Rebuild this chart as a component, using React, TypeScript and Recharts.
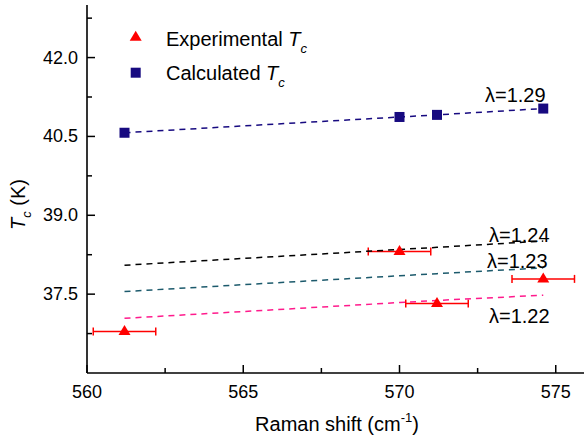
import { ScatterChart, Scatter, XAxis, YAxis, ErrorBar } from "recharts";

// Raman shift positions (cm-1)
const XS = [561.2, 570.0, 571.2, 574.6];
// experimental Tc with +-1 cm-1 error on the shift
const EXP_TC = [36.79, 38.31, 37.32, 37.79];
const EXP_ERR = [1.0, 1.0, 1.0, 1.0];
// calculated Tc (lambda = 1.29)
const CALC_TC = [40.57, 40.87, 40.91, 41.03];
// dashed curves for the lower lambdas
const FIT_124 = [38.05, 38.35, 38.39, 38.51];
const FIT_123 = [37.55, 37.85, 37.89, 38.0];
const FIT_122 = [37.04, 37.34, 37.38, 37.48];

const X_TICKS = [560, 562.5, 565, 567.5, 570, 572.5, 575];
const Y_TICKS = [36.75, 37.5, 38.25, 39, 39.75, 40.5, 41.25, 42, 42.75];

const FONT = "'Liberation Sans', Arial, sans-serif";
const NAVY = "#170a80";
const RED = "#ff0000";
const DASH = "6 5";

const toPts = (ys: number[]) => XS.map((x, i) => ({ x, y: ys[i] }));
const expData = XS.map((x, i) => ({ x, y: EXP_TC[i], xe: EXP_ERR[i] }));

const isMult = (v: number, step: number) => Math.abs(v / step - Math.round(v / step)) < 1e-6;

const YTick = (p: any) => {
  const { x, y, payload } = p;
  const major = isMult(payload.value, 1.5);
  return (
    <g>
      <line x1={x} x2={x + (major ? 8 : 5)} y1={y} y2={y} stroke="#000" strokeWidth={1.5} />
      {major && (
        <text x={x - 9} y={y + 6} textAnchor="end" fontSize={18} fontFamily={FONT} fill="#000">
          {payload.value.toFixed(1)}
        </text>
      )}
    </g>
  );
};

const XTick = (p: any) => {
  const { x, y, payload } = p;
  const major = isMult(payload.value, 5);
  return (
    <g>
      <line x1={x} x2={x} y1={y} y2={y - (major ? 8 : 5)} stroke="#000" strokeWidth={1.5} />
      {major && (
        <text x={x} y={y + 25} textAnchor="middle" fontSize={18} fontFamily={FONT} fill="#000">
          {payload.value}
        </text>
      )}
    </g>
  );
};

const TopTick = (p: any) => {
  const { x, y, payload } = p;
  const major = isMult(payload.value, 5);
  return <line x1={x} x2={x} y1={y} y2={y + (major ? 8 : 5)} stroke="#000" strokeWidth={1.5} />;
};

const Triangle = (p: any) => {
  const { cx, cy } = p;
  return <polygon points={`${cx},${cy - 6.5} ${cx - 6},${cy + 3.5} ${cx + 6},${cy + 3.5}`} fill={RED} />;
};

const Square = (p: any) => {
  const { cx, cy } = p;
  return <rect x={cx - 5} y={cy - 5} width={10} height={10} fill={NAVY} />;
};

const NoDot = () => <g />;

export default function App() {
  return (
    <div style={{ position: "absolute", left: 0, top: 0, width: 584, height: 439, overflow: "hidden", background: "#fff" }}>
      <ScatterChart width={592} height={439} margin={{ top: 5, right: 5, bottom: 0, left: 0 }}>
        <XAxis
          type="number"
          dataKey="x"
          domain={[560, 576]}
          ticks={X_TICKS}
          height={66}
          tickSize={0}
          tickMargin={0}
          tickLine={false}
          tick={XTick}
          axisLine={{ stroke: "#000", strokeWidth: 1.6 }}
          allowDataOverflow
        />
        <XAxis
          xAxisId="top"
          orientation="top"
          type="number"
          dataKey="x"
          domain={[560, 576]}
          ticks={X_TICKS}
          height={0}
          tickSize={0}
          tickMargin={0}
          tickLine={false}
          tick={TopTick}
          axisLine={{ stroke: "#000", strokeWidth: 1.6 }}
          allowDataOverflow
        />
        <YAxis
          type="number"
          dataKey="y"
          domain={[36, 43]}
          ticks={Y_TICKS}
          width={87}
          tickSize={0}
          tickMargin={0}
          tickLine={false}
          tick={YTick}
          axisLine={{ stroke: "#000", strokeWidth: 1.6 }}
          allowDataOverflow
        />
        <Scatter
          data={toPts(FIT_124)}
          shape={NoDot}
          line={{ stroke: "#000", strokeWidth: 1.5, strokeDasharray: DASH }}
          isAnimationActive={false}
        />
        <Scatter
          data={toPts(FIT_123)}
          shape={NoDot}
          line={{ stroke: "#1c5a6c", strokeWidth: 1.5, strokeDasharray: DASH }}
          isAnimationActive={false}
        />
        <Scatter
          data={toPts(FIT_122)}
          shape={NoDot}
          line={{ stroke: "#ff1a8c", strokeWidth: 1.5, strokeDasharray: DASH }}
          isAnimationActive={false}
        />
        <Scatter
          data={toPts(CALC_TC)}
          shape={Square}
          line={{ stroke: NAVY, strokeWidth: 1.5, strokeDasharray: DASH }}
          isAnimationActive={false}
        />
        <Scatter data={expData} shape={Triangle} isAnimationActive={false}>
          <ErrorBar dataKey="xe" direction="x" width={4} stroke={RED} strokeWidth={1.5} />
        </Scatter>
      </ScatterChart>

      {/* legend, curve labels, axis titles */}
      <svg width={584} height={439} style={{ position: "absolute", left: 0, top: 0, pointerEvents: "none" }} fontFamily={FONT}>
        <polygon points="135.7,30.8 129.7,40.8 141.7,40.8" fill={RED} />
        <rect x={130.7} y={67.7} width={10} height={10} fill={NAVY} />
        <text x={166} y={46} fontSize={20} fill="#000">
          Experimental <tspan fontStyle="italic">T</tspan>
          <tspan fontStyle="italic" fontSize={13} dy={7}>c</tspan>
        </text>
        <text x={166} y={79.5} fontSize={20} fill="#000">
          Calculated <tspan fontStyle="italic">T</tspan>
          <tspan fontStyle="italic" fontSize={13} dy={7}>c</tspan>
        </text>

        <text x={485} y={102} fontSize={20} fill="#000">λ=1.29</text>
        <text x={489} y={242} fontSize={20} fill="#000">λ=1.24</text>
        <text x={487} y={268} fontSize={20} fill="#000">λ=1.23</text>
        <text x={489} y={323} fontSize={20} fill="#000">λ=1.22</text>

        <text transform="translate(25,230) rotate(-90)" fontSize={20} fill="#000">
          <tspan fontStyle="italic">T</tspan>
          <tspan fontStyle="italic" fontSize={13} dy={6}>c</tspan>
          <tspan dy={-6}> (K)</tspan>
        </text>
        <text x={337} y={431} textAnchor="middle" fontSize={20} fill="#000">
          Raman shift (cm<tspan fontSize={13} dy={-9}>-1</tspan>
          <tspan dy={9}>)</tspan>
        </text>
      </svg>
    </div>
  );
}
